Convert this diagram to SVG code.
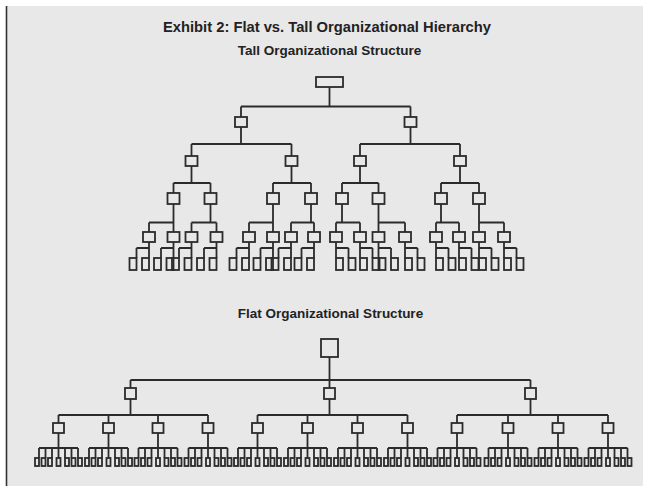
<svg xmlns="http://www.w3.org/2000/svg" width="647" height="491" viewBox="0 0 647 491">
<style>
.bx{fill:none;stroke:#2b2b2b;stroke-width:1.8}
.ln{fill:none;stroke:#2b2b2b;stroke-width:1.8}
.t{font-family:"Liberation Sans",Arial,sans-serif;font-weight:bold;fill:#222;text-anchor:middle}
</style>
<rect x="0" y="0" width="647" height="491" fill="#ffffff"/>
<rect x="7" y="6" width="636" height="480" fill="#e8e8e8"/>
<line x1="6.5" y1="6" x2="6.5" y2="486" stroke="#333" stroke-width="1.6"/>
<text class="t" x="327" y="32" font-size="15" textLength="328" lengthAdjust="spacingAndGlyphs">Exhibit 2: Flat vs. Tall Organizational Hierarchy</text>
<text class="t" x="329.5" y="55" font-size="13.5">Tall Organizational Structure</text>
<text class="t" x="330.5" y="318" font-size="13.5">Flat Organizational Structure</text>

<g id="tall-connectors" class="ln">
<path d="M329.5 87V106.5M241 106.5H410.5M241 106.5V117M410.5 106.5V117"/>
<path d="M241 127V144M191.5 144H291.5M191.5 144V156M291.5 144V156"/>
<path d="M410.5 127V144M360 144H460M360 144V156M460 144V156"/>
<path d="M191.5 166V183M173.5 183H210.5M173.5 183V193M210.5 183V193"/>
<path d="M291.5 166V183M273 183H311M273 183V193M311 183V193"/>
<path d="M360 166V183M342 183H378.5M342 183V193M378.5 183V193"/>
<path d="M460 166V183M441 183H479M441 183V193M479 183V193"/>
<path d="M173.5 204V232M149 222.5H173.5M149 222.5V232"/>
<path d="M210.5 204V222.5M191.5 222.5H216.5M191.5 222.5V232M216.5 222.5V232"/>
<path d="M273 204V232M249 222.5H273M249 222.5V232"/>
<path d="M311 204V222.5M291 222.5H314M291 222.5V232M314 222.5V232"/>
<path d="M342 204V222.5M336 222.5H360M336 222.5V232M360 222.5V232"/>
<path d="M378.5 204V232M378.5 222.5H405M405 222.5V232"/>
<path d="M441 204V222.5M436 222.5H459M436 222.5V232M459 222.5V232"/>
<path d="M479 204V232M479 222.5H504M504 222.5V232"/>
<path d="M149 242V258M136.5 248H149M136.5 248V258"/>
<path d="M173.5 242V258M161 248H173.5M161 248V258"/>
<path d="M191.5 242V258M179 248H191.5M179 248V258"/>
<path d="M216.5 242V258M204 248H216.5M204 248V258"/>
<path d="M249 242V258M236.5 248H249M236.5 248V258"/>
<path d="M273 242V258M260.5 248H273M260.5 248V258"/>
<path d="M291 242V258M278.5 248H291M278.5 248V258"/>
<path d="M314 242V258M301.5 248H314M301.5 248V258"/>
<path d="M336 242V258M336 248H348.5M348.5 248V258"/>
<path d="M360 242V258M360 248H372.5M372.5 248V258"/>
<path d="M378.5 242V258M378.5 248H391M391 248V258"/>
<path d="M405 242V258M405 248H417.5M417.5 248V258"/>
<path d="M436 242V258M436 248H448.5M448.5 248V258"/>
<path d="M459 242V258M459 248H471.5M471.5 248V258"/>
<path d="M479 242V258M479 248H491.5M491.5 248V258"/>
<path d="M504 242V258M504 248H516.5M516.5 248V258"/>
</g>

<g id="tall-nodes" class="bx">
<g id="t-root"><rect x="316" y="77" width="27" height="10"/></g>
<g id="t-1a"><rect x="235" y="117" width="12" height="10"/></g>
<g id="t-1b"><rect x="404.5" y="117" width="12" height="10"/></g>
<g id="t-2a"><rect x="185.5" y="156" width="12" height="10"/></g>
<g id="t-2b"><rect x="285.5" y="156" width="12" height="10"/></g>
<g id="t-2c"><rect x="354" y="156" width="12" height="10"/></g>
<g id="t-2d"><rect x="454" y="156" width="12" height="10"/></g>
<g id="t-3a"><rect x="167.5" y="193" width="12" height="11"/></g>
<g id="t-3b"><rect x="204.5" y="193" width="12" height="11"/></g>
<g id="t-3c"><rect x="267" y="193" width="12" height="11"/></g>
<g id="t-3d"><rect x="305" y="193" width="12" height="11"/></g>
<g id="t-3e"><rect x="336" y="193" width="12" height="11"/></g>
<g id="t-3f"><rect x="372.5" y="193" width="12" height="11"/></g>
<g id="t-3g"><rect x="435" y="193" width="12" height="11"/></g>
<g id="t-3h"><rect x="473" y="193" width="12" height="11"/></g>
<g id="t-4a"><rect x="143" y="232" width="12" height="10"/></g>
<g id="t-4b"><rect x="167.5" y="232" width="12" height="10"/></g>
<g id="t-4c"><rect x="185.5" y="232" width="12" height="10"/></g>
<g id="t-4d"><rect x="210.5" y="232" width="12" height="10"/></g>
<g id="t-4e"><rect x="243" y="232" width="12" height="10"/></g>
<g id="t-4f"><rect x="267" y="232" width="12" height="10"/></g>
<g id="t-4g"><rect x="285" y="232" width="12" height="10"/></g>
<g id="t-4h"><rect x="308" y="232" width="12" height="10"/></g>
<g id="t-4i"><rect x="330" y="232" width="12" height="10"/></g>
<g id="t-4j"><rect x="354" y="232" width="12" height="10"/></g>
<g id="t-4k"><rect x="372.5" y="232" width="12" height="10"/></g>
<g id="t-4l"><rect x="399" y="232" width="12" height="10"/></g>
<g id="t-4m"><rect x="430" y="232" width="12" height="10"/></g>
<g id="t-4n"><rect x="453" y="232" width="12" height="10"/></g>
<g id="t-4o"><rect x="473" y="232" width="12" height="10"/></g>
<g id="t-4p"><rect x="498" y="232" width="12" height="10"/></g>
<g id="t-5-01"><rect x="129.5" y="258" width="7" height="12"/></g>
<g id="t-5-02"><rect x="142" y="258" width="7" height="12"/></g>
<g id="t-5-03"><rect x="154" y="258" width="7" height="12"/></g>
<g id="t-5-04"><rect x="166.5" y="258" width="7" height="12"/></g>
<g id="t-5-05"><rect x="172" y="258" width="7" height="12"/></g>
<g id="t-5-06"><rect x="184.5" y="258" width="7" height="12"/></g>
<g id="t-5-07"><rect x="197" y="258" width="7" height="12"/></g>
<g id="t-5-08"><rect x="209.5" y="258" width="7" height="12"/></g>
<g id="t-5-09"><rect x="229.5" y="258" width="7" height="12"/></g>
<g id="t-5-10"><rect x="242" y="258" width="7" height="12"/></g>
<g id="t-5-11"><rect x="253.5" y="258" width="7" height="12"/></g>
<g id="t-5-12"><rect x="266" y="258" width="7" height="12"/></g>
<g id="t-5-13"><rect x="271.5" y="258" width="7" height="12"/></g>
<g id="t-5-14"><rect x="284" y="258" width="7" height="12"/></g>
<g id="t-5-15"><rect x="294.5" y="258" width="7" height="12"/></g>
<g id="t-5-16"><rect x="307" y="258" width="7" height="12"/></g>
<g id="t-5-17"><rect x="336" y="258" width="7" height="12"/></g>
<g id="t-5-18"><rect x="348.5" y="258" width="7" height="12"/></g>
<g id="t-5-19"><rect x="360" y="258" width="7" height="12"/></g>
<g id="t-5-20"><rect x="372.5" y="258" width="7" height="12"/></g>
<g id="t-5-21"><rect x="378.5" y="258" width="7" height="12"/></g>
<g id="t-5-22"><rect x="391" y="258" width="7" height="12"/></g>
<g id="t-5-23"><rect x="405" y="258" width="7" height="12"/></g>
<g id="t-5-24"><rect x="417.5" y="258" width="7" height="12"/></g>
<g id="t-5-25"><rect x="436" y="258" width="7" height="12"/></g>
<g id="t-5-26"><rect x="448.5" y="258" width="7" height="12"/></g>
<g id="t-5-27"><rect x="459" y="258" width="7" height="12"/></g>
<g id="t-5-28"><rect x="471.5" y="258" width="7" height="12"/></g>
<g id="t-5-29"><rect x="479" y="258" width="7" height="12"/></g>
<g id="t-5-30"><rect x="491.5" y="258" width="7" height="12"/></g>
<g id="t-5-31"><rect x="504" y="258" width="7" height="12"/></g>
<g id="t-5-32"><rect x="516.5" y="258" width="7" height="12"/></g>
</g>

<g id="flat-connectors" class="ln">
<path d="M329.5 357V380M130.5 380H530.5M130.5 380V388M329.5 380V388M530.5 380V388"/>
<path d="M130.5 399V415M58.5 415H208M58.5 415V423M108.5 415V423M158 415V423M208 415V423"/>
<path d="M329.5 399V415M257.5 415H407.5M257.5 415V423M307.5 415V423M357.5 415V423M407.5 415V423"/>
<path d="M530.5 399V415M457 415H608M457 415V423M508 415V423M558 415V423M608 415V423"/>
<path d="M58.5 433V458M39 448H78M39 448V458M45.5 448V458M52 448V458M65 448V458M71.5 448V458M78 448V458"/>
<path d="M108.5 433V458M89 448H128M89 448V458M95.5 448V458M102 448V458M115 448V458M121.5 448V458M128 448V458"/>
<path d="M158 433V458M138.5 448H177.5M138.5 448V458M145 448V458M151.5 448V458M164.5 448V458M171 448V458M177.5 448V458"/>
<path d="M208 433V458M188.5 448H227.5M188.5 448V458M195 448V458M201.5 448V458M214.5 448V458M221 448V458M227.5 448V458"/>
<path d="M257.5 433V458M238 448H277M238 448V458M244.5 448V458M251 448V458M264 448V458M270.5 448V458M277 448V458"/>
<path d="M307.5 433V458M288 448H327M288 448V458M294.5 448V458M301 448V458M314 448V458M320.5 448V458M327 448V458"/>
<path d="M357.5 433V458M338 448H377M338 448V458M344.5 448V458M351 448V458M364 448V458M370.5 448V458M377 448V458"/>
<path d="M407.5 433V458M388 448H427M388 448V458M394.5 448V458M401 448V458M414 448V458M420.5 448V458M427 448V458"/>
<path d="M457 433V458M437.5 448H476.5M437.5 448V458M444 448V458M450.5 448V458M463.5 448V458M470 448V458M476.5 448V458"/>
<path d="M508 433V458M488.5 448H527.5M488.5 448V458M495 448V458M501.5 448V458M514.5 448V458M521 448V458M527.5 448V458"/>
<path d="M558 433V458M538.5 448H577.5M538.5 448V458M545 448V458M551.5 448V458M564.5 448V458M571 448V458M577.5 448V458"/>
<path d="M608 433V458M588.5 448H627.5M588.5 448V458M595 448V458M601.5 448V458M614.5 448V458M621 448V458M627.5 448V458"/>
</g>

<g id="flat-nodes" class="bx">
<g id="f-root"><rect x="321" y="339" width="17" height="18"/></g>
<g id="f-1a"><rect x="125" y="388" width="11" height="11"/></g>
<g id="f-1b"><rect x="324" y="388" width="11" height="11"/></g>
<g id="f-1c"><rect x="525" y="388" width="11" height="11"/></g>
<g id="f-2a"><rect x="53" y="423" width="11" height="10"/></g>
<g id="f-2b"><rect x="103" y="423" width="11" height="10"/></g>
<g id="f-2c"><rect x="152.5" y="423" width="11" height="10"/></g>
<g id="f-2d"><rect x="202.5" y="423" width="11" height="10"/></g>
<g id="f-2e"><rect x="252" y="423" width="11" height="10"/></g>
<g id="f-2f"><rect x="302" y="423" width="11" height="10"/></g>
<g id="f-2g"><rect x="352" y="423" width="11" height="10"/></g>
<g id="f-2h"><rect x="402" y="423" width="11" height="10"/></g>
<g id="f-2i"><rect x="451.5" y="423" width="11" height="10"/></g>
<g id="f-2j"><rect x="502.5" y="423" width="11" height="10"/></g>
<g id="f-2k"><rect x="552.5" y="423" width="11" height="10"/></g>
<g id="f-2l"><rect x="602.5" y="423" width="11" height="10"/></g>
<g id="f-3a"><rect x="35" y="458" width="4" height="8"/><rect x="41.5" y="458" width="4" height="8"/><rect x="48" y="458" width="4" height="8"/><rect x="56.5" y="458" width="4" height="8"/><rect x="65" y="458" width="4" height="8"/><rect x="71.5" y="458" width="4" height="8"/><rect x="78" y="458" width="4" height="8"/></g>
<g id="f-3b"><rect x="85" y="458" width="4" height="8"/><rect x="91.5" y="458" width="4" height="8"/><rect x="98" y="458" width="4" height="8"/><rect x="106.5" y="458" width="4" height="8"/><rect x="115" y="458" width="4" height="8"/><rect x="121.5" y="458" width="4" height="8"/><rect x="128" y="458" width="4" height="8"/></g>
<g id="f-3c"><rect x="134.5" y="458" width="4" height="8"/><rect x="141" y="458" width="4" height="8"/><rect x="147.5" y="458" width="4" height="8"/><rect x="156" y="458" width="4" height="8"/><rect x="164.5" y="458" width="4" height="8"/><rect x="171" y="458" width="4" height="8"/><rect x="177.5" y="458" width="4" height="8"/></g>
<g id="f-3d"><rect x="184.5" y="458" width="4" height="8"/><rect x="191" y="458" width="4" height="8"/><rect x="197.5" y="458" width="4" height="8"/><rect x="206" y="458" width="4" height="8"/><rect x="214.5" y="458" width="4" height="8"/><rect x="221" y="458" width="4" height="8"/><rect x="227.5" y="458" width="4" height="8"/></g>
<g id="f-3e"><rect x="234" y="458" width="4" height="8"/><rect x="240.5" y="458" width="4" height="8"/><rect x="247" y="458" width="4" height="8"/><rect x="255.5" y="458" width="4" height="8"/><rect x="264" y="458" width="4" height="8"/><rect x="270.5" y="458" width="4" height="8"/><rect x="277" y="458" width="4" height="8"/></g>
<g id="f-3f"><rect x="284" y="458" width="4" height="8"/><rect x="290.5" y="458" width="4" height="8"/><rect x="297" y="458" width="4" height="8"/><rect x="305.5" y="458" width="4" height="8"/><rect x="314" y="458" width="4" height="8"/><rect x="320.5" y="458" width="4" height="8"/><rect x="327" y="458" width="4" height="8"/></g>
<g id="f-3g"><rect x="334" y="458" width="4" height="8"/><rect x="340.5" y="458" width="4" height="8"/><rect x="347" y="458" width="4" height="8"/><rect x="355.5" y="458" width="4" height="8"/><rect x="364" y="458" width="4" height="8"/><rect x="370.5" y="458" width="4" height="8"/><rect x="377" y="458" width="4" height="8"/></g>
<g id="f-3h"><rect x="384" y="458" width="4" height="8"/><rect x="390.5" y="458" width="4" height="8"/><rect x="397" y="458" width="4" height="8"/><rect x="405.5" y="458" width="4" height="8"/><rect x="414" y="458" width="4" height="8"/><rect x="420.5" y="458" width="4" height="8"/><rect x="427" y="458" width="4" height="8"/></g>
<g id="f-3i"><rect x="433.5" y="458" width="4" height="8"/><rect x="440" y="458" width="4" height="8"/><rect x="446.5" y="458" width="4" height="8"/><rect x="455" y="458" width="4" height="8"/><rect x="463.5" y="458" width="4" height="8"/><rect x="470" y="458" width="4" height="8"/><rect x="476.5" y="458" width="4" height="8"/></g>
<g id="f-3j"><rect x="484.5" y="458" width="4" height="8"/><rect x="491" y="458" width="4" height="8"/><rect x="497.5" y="458" width="4" height="8"/><rect x="506" y="458" width="4" height="8"/><rect x="514.5" y="458" width="4" height="8"/><rect x="521" y="458" width="4" height="8"/><rect x="527.5" y="458" width="4" height="8"/></g>
<g id="f-3k"><rect x="534.5" y="458" width="4" height="8"/><rect x="541" y="458" width="4" height="8"/><rect x="547.5" y="458" width="4" height="8"/><rect x="556" y="458" width="4" height="8"/><rect x="564.5" y="458" width="4" height="8"/><rect x="571" y="458" width="4" height="8"/><rect x="577.5" y="458" width="4" height="8"/></g>
<g id="f-3l"><rect x="584.5" y="458" width="4" height="8"/><rect x="591" y="458" width="4" height="8"/><rect x="597.5" y="458" width="4" height="8"/><rect x="606" y="458" width="4" height="8"/><rect x="614.5" y="458" width="4" height="8"/><rect x="621" y="458" width="4" height="8"/><rect x="627.5" y="458" width="4" height="8"/></g>
</g>
</svg>
